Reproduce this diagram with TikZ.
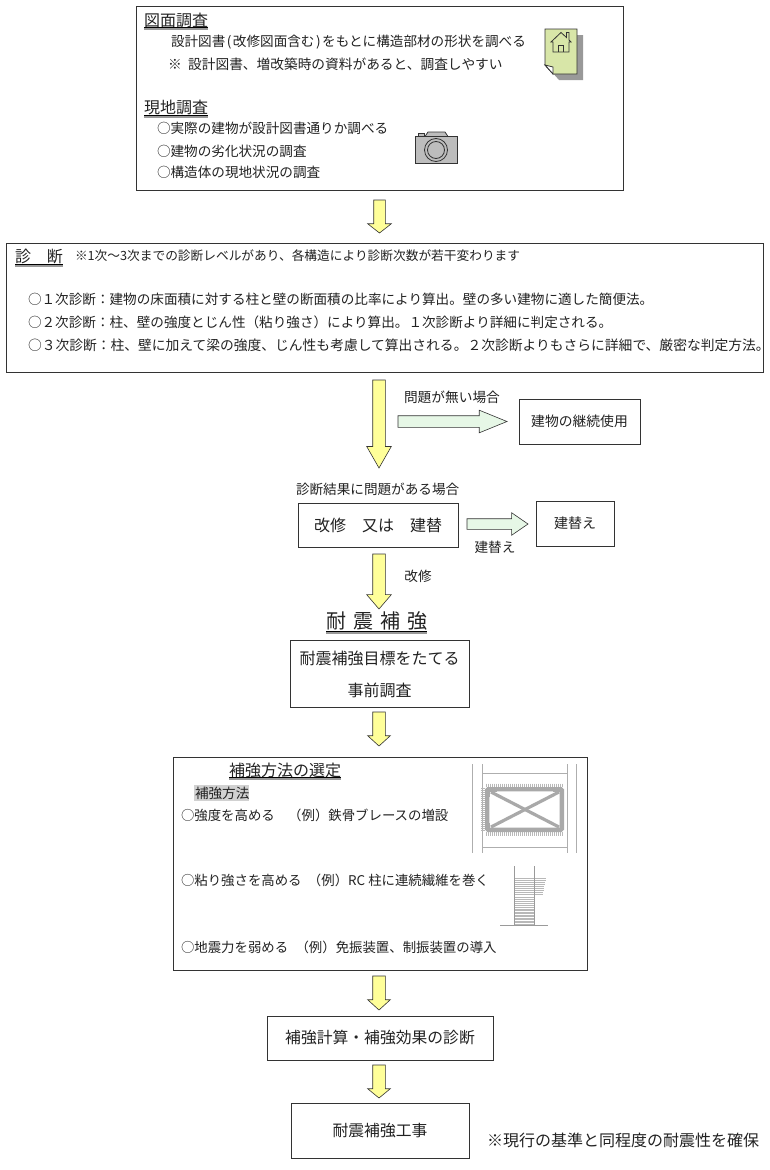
\documentclass[tikz,border=0pt]{standalone}
\usepackage{fontspec}
\setmainfont{Noto Sans CJK JP}
\usetikzlibrary{shapes.arrows}
\definecolor{arrowyellow}{HTML}{FFFF99}
\definecolor{arrowgreen}{HTML}{E6F7E6}
\definecolor{linedark}{HTML}{333333}
\definecolor{inkdark}{HTML}{222222}
\definecolor{shadowgray}{HTML}{999999}
\definecolor{pagegreen}{HTML}{D8E6A8}
\definecolor{hatchgray}{HTML}{9A9A9A}
\tikzset{
  framebox/.style={draw=linedark,line width=0.9pt,fill=white,inner sep=0pt,outer sep=0pt,text=inkdark},
  label text/.style={inner sep=0pt,outer sep=0pt,text=inkdark},
  block arrow/.style={single arrow,draw=linedark,line width=0.6pt,inner sep=0pt,outer sep=0pt,single arrow head indent=0pt},
  ulthin/.style={draw=black,line width=0.6pt},
  ulshade/.style={draw=shadowgray,line width=2pt},
  icon line/.style={draw=linedark,line width=0.8pt},
  hatch/.style={draw=hatchgray!70,line width=0.3pt},
}
% box: name, x1, y1, x2, y2, text size, text
\newcommand{\pbox}[7]{%
  \pgfmathsetmacro{\bw}{#4-#2}\pgfmathsetmacro{\bh}{#5-#3}%
  \node[framebox,minimum width=\bw pt,minimum height=\bh pt] (#1) at ({(#2+#4)/2},{(#3+#5)/2})
    {\fontsize{#6pt}{#6pt}\selectfont #7};}
% text: name, anchor, x, y-centre, size, text
\newcommand{\tx}[6]{%
  \pgfmathsetmacro{\by}{#4+0.38*#5}%
  \node[label text,anchor=#2] (#1) at (#3,\by) {\fontsize{#5pt}{#5pt}\selectfont #6};}
% down arrow: name, x, top, head start, tip, shaft width, head width
\newcommand{\downarr}[7]{%
  \pgfmathsetmacro{\al}{#5-#3}%
  \pgfmathsetmacro{\ae}{(#7-#6)/2}\pgfmathsetmacro{\aa}{2*atan((#7/2)/(#5-#4))}%
  \node[block arrow,fill=arrowyellow,rotate=-90,anchor=tail,minimum height=\al pt,minimum width=#7 pt,
    single arrow head extend=\ae pt,single arrow tip angle=\aa] (#1) at (#2,#3) {\rule{0pt}{#6pt}};}
% right arrow: name, left, y, head start, tip, shaft width, head width
\newcommand{\rightarr}[7]{%
  \pgfmathsetmacro{\al}{#5-#2}%
  \pgfmathsetmacro{\ae}{(#7-#6)/2}\pgfmathsetmacro{\aa}{2*atan((#7/2)/(#5-#4))}%
  \node[block arrow,fill=arrowgreen,anchor=tail,minimum height=\al pt,minimum width=#7 pt,
    single arrow head extend=\ae pt,single arrow tip angle=\aa] (#1) at (#2,#3) {\rule{0pt}{#6pt}};}
\newcommand{\ul}[3]{\draw[ulshade] (#1,#3+1.8) -- (#2,#3+1.8);\draw[ulthin] (#1,#3) -- (#2,#3);}
\begin{document}
\begin{tikzpicture}[x=1pt,y=-1pt]
\useasboundingbox[fill=white] (0,0) rectangle (770,1170);

% ---- survey box
\pbox{survey}{136}{6}{623}{190}{14}{}
\tx{t1}{base west}{144}{20}{16}{図面調査}
\ul{144}{208}{27.5}
\tx{t2}{base west}{171}{41}{13.6}{設計図書\hspace{1.5pt}(\hspace{1.5pt}改修図面含む\hspace{1.5pt})\hspace{1.5pt}をもとに構造部材の形状を調べる}
\tx{t3}{base west}{168}{64}{13.7}{※\hspace{6.5pt}設計図書、増改築時の資料があると、調査しやすい}
\tx{t4}{base west}{144}{107}{16}{現地調査}
\ul{144}{208}{115.5}
\tx{t5}{base west}{157}{128}{13.6}{○実際の建物が設計図書通りか調べる}
\tx{t6}{base west}{157}{151}{13.6}{○建物の劣化状況の調査}
\tx{t7}{base west}{157}{172}{13.6}{○構造体の現地状況の調査}

% document icon
\fill[shadowgray] (551,35) -- (583,35) -- (583,80) -- (559,80) -- (551,71) -- cycle;
\draw[icon line,fill=pagegreen] (545,29) -- (577,29) -- (577,74) -- (553,74) -- (545,65) -- cycle;
\draw[icon line,fill=white] (545,65) -- (553,67) -- (553,74) -- cycle;
\draw[icon line,fill=pagegreen] (551,42) -- (561,32.5) -- (566.5,37.5) -- (566.5,32.5) -- (569,32.5) -- (569,40) -- (571,42) -- (569,42) -- (569,52) -- (553,52) -- (553,42) -- cycle;
\draw[icon line] (558,52) -- (558,45) -- (563,45) -- (563,52);

% camera icon
\draw[icon line,fill=shadowgray!65] (418,136.5) -- (418,133) -- (424,133) -- (424,136.5);
\draw[icon line,fill=shadowgray!65] (425,136.5) -- (428,132) -- (445,132) -- (448,136.5) -- cycle;
\draw[icon line,fill=shadowgray!65] (415,136.5) rectangle (457.5,163.5);
\draw[icon line,fill=shadowgray!65] (436,150) circle (11.5);
\draw[icon line,fill=shadowgray!65] (436,150) circle (8.5);

\downarr{a1}{379.5}{200}{224}{233}{11}{23}

% ---- diagnosis box
\pbox{diag}{6.5}{243}{763}{372}{14}{}
\tx{d1}{base west}{15}{256}{16}{診　断}
\ul{15}{63}{264}
\tx{d2}{base west}{75}{256}{12.7}{※1次〜3次までの診断レベルがあり、各構造により診断次数が若干変わります}
\tx{d3}{base west}{28}{299}{13.6}{○１次診断：建物の床面積に対する柱と壁の断面積の比率により算出。壁の多い建物に適した簡便法。}
\tx{d4}{base west}{28}{322}{13.6}{○２次診断：柱、壁の強度とじん性（粘り強さ）により算出。１次診断より詳細に判定される。}
\tx{d5}{base west}{28}{345}{13.77}{○３次診断：柱、壁に加えて梁の強度、じん性も考慮して算出される。２次診断よりもさらに詳細で、厳密な判定方法。}

\downarr{a2}{379}{380}{447}{468}{12}{24}
\tx{l1}{base west}{404}{397}{13.7}{問題が無い場合}
\rightarr{g1}{398}{421.5}{480}{507}{11}{22}
\pbox{keep}{519}{399}{640}{444}{13.8}{建物の継続使用}

\tx{l2}{base west}{296}{489}{13.6}{診断結果に問題がある場合}
\pbox{choice}{298}{503}{458}{547}{16}{改修　又は　建替}
\rightarr{g2}{467}{524}{512}{528}{10}{22}
\pbox{rebuild}{536}{501}{614}{546}{14}{建替え}
\tx{l3}{base}{495}{547}{13.6}{建替え}
\downarr{a3}{379}{554}{595}{609}{12}{24}
\tx{l4}{base}{418}{576}{13.6}{改修}

\tx{h1}{base}{377}{621}{20}{耐\hspace{6.7pt}震\hspace{6.7pt}補\hspace{6.7pt}強}
\ul{326}{427}{631}
\pbox{target}{290}{640}{469}{707}{14}{}
\tx{h2}{base}{379.5}{658}{16}{耐震補強目標をたてる}
\tx{h3}{base}{379.5}{690}{16}{事前調査}

\downarr{a4}{379}{712}{736}{746}{12}{22}

% ---- method box
\pbox{method}{173}{757}{587}{970}{14}{}
\tx{m1}{base west}{229}{770}{16}{補強方法の選定}
\ul{229}{341}{777.5}
\fill[black!18] (194,785) rectangle (249,801);
\tx{m2}{base west}{195}{793}{13.6}{補強方法}
\tx{m3}{base west}{181}{815}{13.4}{○強度を高める　（例）鉄骨ブレースの増設}
\tx{m4}{base west}{181}{880}{13.4}{○粘り強さを高める\hspace{6.4pt}（例）RC 柱に連続繊維を巻く}
\tx{m5}{base west}{181}{947}{13.4}{○地震力を弱める\hspace{7.4pt}（例）免振装置、制振装置の導入}

% steel brace figure
\foreach \xa in {472,482,567,576} \draw[hatchgray!80,line width=0.7pt] (\xa,764) -- (\xa,853);
\foreach \ya in {773,847} \draw[hatchgray!80,line width=0.7pt] (482,\ya) -- (567,\ya);
\foreach \xa in {486,488,...,563} {\draw[hatch] (\xa,783.5) -- (\xa,787);\draw[hatch] (\xa,832) -- (\xa,835.5);}
\foreach \ya in {788,790,...,831} {\draw[hatch] (481,\ya) -- (485,\ya);}
\draw[draw=hatchgray!85,line width=3.2pt] (491,792) -- (559,827);
\draw[draw=hatchgray!85,line width=3.2pt] (559,792) -- (491,827);
\draw[draw=hatchgray!85,line width=4.4pt,rounded corners=1pt] (487.2,789.2) rectangle (561.8,829.8);
\foreach \xa/\ya/\xb/\yb in {489/791/497/791,489/791/489/797,561/791/553/791,561/791/561/797,489/829/497/829,489/829/489/823,561/829/553/829,561/829/561/823}
  \draw[hatchgray!85,line width=2pt] (\xa,\ya) -- (\xb,\yb);

% column wrap figure
\foreach \ya in {878,880,...,894} {\pgfmathsetmacro{\xe}{546-(\ya-878)*0.2}\draw[hatch,line width=0.8pt] (514,\ya) -- (\xe,\ya);}
\foreach \ya in {897,899,...,909,910.5,912,...,925} \draw[hatch,line width=0.8pt] (514,\ya) -- (534,\ya);
\foreach \xa in {514,534} \draw[hatchgray,line width=0.9pt] (\xa,866) -- (\xa,925);
\draw[hatchgray,line width=0.9pt] (500,925) -- (548,925);

\downarr{a5}{379}{976}{1000}{1010}{12}{22}
\pbox{calc}{267}{1016}{493}{1060}{15.8}{補強計算・補強効果の診断}
\downarr{a6}{379}{1065}{1089}{1098}{12}{22}
\pbox{work}{291}{1103}{469}{1158}{15.8}{耐震補強工事}
\tx{n1}{base west}{487}{1140}{16}{※現行の基準と同程度の耐震性を確保}
\end{tikzpicture}
\end{document}
